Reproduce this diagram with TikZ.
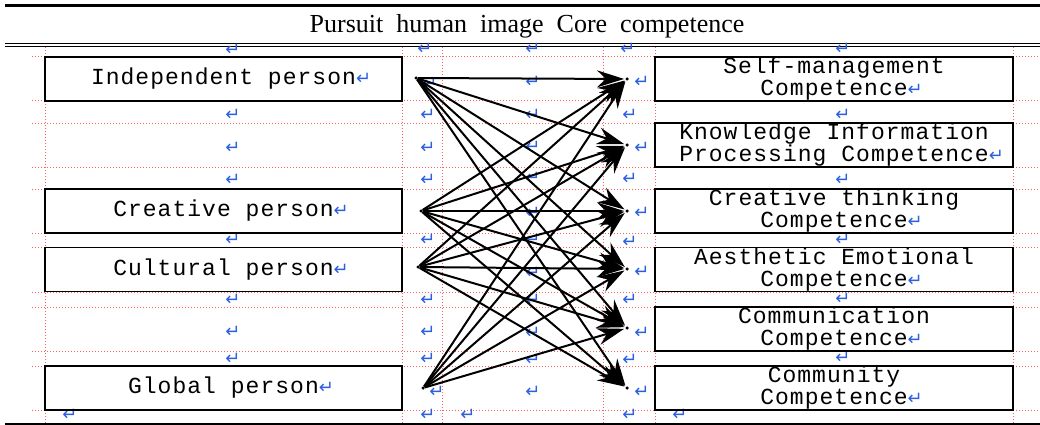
\documentclass[tikz,border=0pt]{standalone}
\usepackage{fontspec}
\setmainfont{Liberation Serif}
\newfontfamily\boxfont[LetterSpace=4.5]{Liberation Mono}
\newfontfamily\markfont{DejaVu Sans}
\usetikzlibrary{arrows.meta}
\definecolor{gridred}{RGB}{255,95,95}
\definecolor{markblue}{RGB}{45,95,225}
\newcommand{\pmark}{{\markfont\fontsize{18}{18}\selectfont\textcolor{markblue}{↵}}}

\begin{document}
\begin{tikzpicture}[x=1pt, y=-1pt,
  gridline/.style={gridred, line width=1pt, dash pattern=on 1.2pt off 1.8pt},
  lbox/.style={draw, line width=1.8pt, inner sep=0pt, minimum width=357pt, minimum height=44pt,
    font=\boxfont\fontsize{23}{22}\selectfont},
  rbox/.style={lbox, minimum width=358pt, align=center},
  pdot/.style={circle, fill=black, inner sep=0pt, minimum size=3.5pt},
  link/.style={line width=2pt, -{Stealth[length=27pt, width=17pt]}, shorten >=1pt},
  pmk/.style={inner sep=0pt}]
  \useasboundingbox (0,0) rectangle (1040,425);

  %% Table rules
  \draw[line width=3pt] (5,6) -- (1040,6);
  \draw[line width=1.1pt] (5,43.5) -- (1040,43.5);
  \draw[line width=1.1pt] (5,46.7) -- (1040,46.7);
  \draw[line width=2pt] (5,423.8) -- (1040,423.8);

  %% Title
  \node[font=\fontsize{26}{26}\selectfont] (title) at (527,26.5)
    {\spaceskip=13pt Pursuit human image Core competence};

  %% Cell grid (dotted)
  \foreach \gx in {45,402,442,603,655,1013}
    \draw[gridline] (\gx,47) -- (\gx,424);
  \foreach \gy in {57,101,123,167,189,233,247,292,307,351,366,410}
    \draw[gridline] (32,\gy) -- (1040,\gy);

  %% Paragraph marks
  \foreach \mx/\my in {233/50,425/49,533/49,628/49,843/49,
      430/84,533/82,642/82,
      233/115,428/115,533/115,630/115,843/115,
      233/148,428/148,533/147,642/148,
      233/180,428/180,533/178,630/179,843/180,
      533/213,642/213,
      233/240,428/240,533/240,630/242,843/240,
      533/273,642/272,
      233/300,428/300,533/300,630/300,843/299,
      233/332,428/332,533/333,642/333,
      233/359,428/359,533/360,630/360,843/358,
      437/392,533/392,642/392,
      70/415,428/415,468/415,630/415,680/415}
    \node[pmk] at (\mx,\my) {\pmark};

  %% Pursuit human image
  \node[lbox] (indep) at (223.5,79) {Independent person\rlap{\pmark}};
  \node[lbox] (creat) at (223.5,211) {Creative person\rlap{\pmark}};
  \node[lbox] (cult) at (223.5,269.5) {Cultural person\rlap{\pmark}};
  \node[lbox] (glob) at (223.5,388) {Global person\rlap{\pmark}};

  %% Core competence
  \node[rbox] (selfm) at (834,79) {Self-management\\Competence\rlap{\pmark}};
  \node[rbox] (know) at (834,145) {Knowledge Information\\Processing Competence\rlap{\pmark}};
  \node[rbox] (think) at (834,211) {Creative thinking\\Competence\rlap{\pmark}};
  \node[rbox] (aesth) at (834,269.5) {Aesthetic Emotional\\Competence\rlap{\pmark}};
  \node[rbox] (commn) at (834,329) {Communication\\Competence\rlap{\pmark}};
  \node[rbox] (commu) at (834,388) {Community\\Competence\rlap{\pmark}};

  %% Start and end points
  \node[pdot] (s1) at (416,78) {};
  \node[pdot] (s2) at (421,211) {};
  \node[pdot] (s3) at (418,267) {};
  \node[pdot] (s4) at (423,388) {};
  \node[pdot] (t1) at (627,79) {};
  \node[pdot] (t2) at (627,145) {};
  \node[pdot] (t3) at (627,211) {};
  \node[pdot] (t4) at (627,269) {};
  \node[pdot] (t5) at (627,328) {};
  \node[pdot] (t6) at (627,388) {};

  %% Links
  \foreach \s in {s1,s2,s3}
    \foreach \t in {t1,t2,t3,t4,t5,t6}
      \draw[link] (\s) -- (\t);
  \foreach \t in {t1,t2,t3,t4,t5}
    \draw[link] (s4) -- (\t);
\end{tikzpicture}
\end{document}
